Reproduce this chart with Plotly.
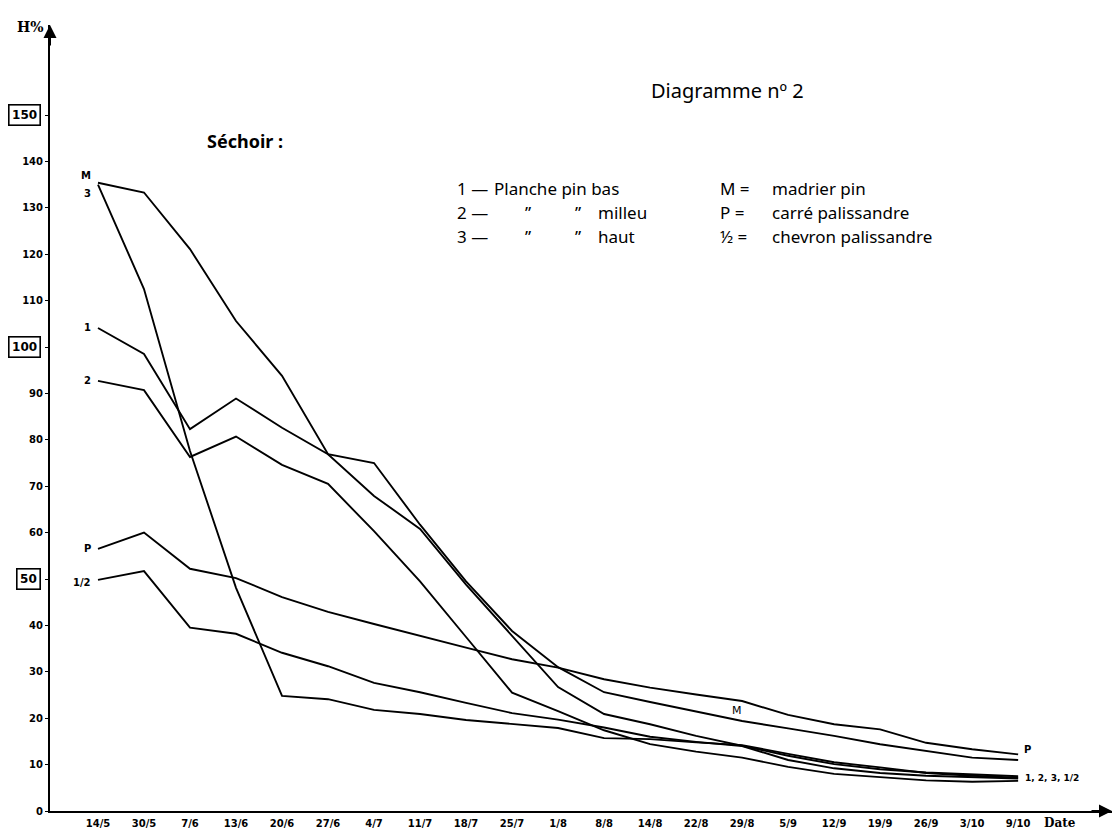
import plotly.graph_objects as go

# ---- data -------------------------------------------------------------
dates = ["14/5", "30/5", "7/6", "13/6", "20/6", "27/6", "4/7", "11/7", "18/7", "25/7",
         "1/8", "8/8", "14/8", "22/8", "29/8", "5/9", "12/9", "19/9", "26/9", "3/10", "9/10"]

planche_bas_1 = [104.1, 98.5, 82.3, 88.9, 82.6, 76.9, 67.9, 60.8, 48.8, 37.7, 26.7,
                 20.9, 18.7, 16.2, 14.0, 11.9, 10.1, 9.0, 8.3, 7.9, 7.5]
planche_milieu_2 = [92.7, 90.7, 76.3, 80.7, 74.6, 70.5, 60.3, 49.5, 37.5, 25.5, 21.5,
                    17.4, 14.4, 12.8, 11.5, 9.5, 8.0, 7.3, 6.6, 6.3, 6.5]
planche_haut_3 = [135.0, 112.5, 77.6, 48.1, 24.8, 24.1, 21.8, 20.9, 19.6, 18.7, 17.9,
                  15.7, 15.5, 14.8, 14.2, 12.3, 10.5, 9.4, 8.2, 7.6, 7.2]
madrier_M = [135.4, 133.3, 121.1, 105.6, 93.8, 76.9, 75.0, 61.7, 49.5, 38.8, 31.0,
             25.6, 23.5, 21.5, 19.4, 17.8, 16.2, 14.4, 12.9, 11.5, 11.0]
carre_P = [56.5, 60.0, 52.2, 50.2, 46.1, 42.9, 40.3, 37.7, 35.2, 32.7, 30.9,
           28.4, 26.6, 25.1, 23.7, 20.7, 18.7, 17.6, 14.7, 13.3, 12.2]
chevron_half = [49.8, 51.7, 39.5, 38.2, 34.1, 31.2, 27.6, 25.6, 23.3, 21.1, 19.7,
                18.0, 16.0, 14.9, 14.0, 11.0, 9.2, 8.2, 7.6, 7.3, 7.0]

series_names = ["1", "2", "3", "M", "P", "1/2"]
series_values = [planche_bas_1, planche_milieu_2, planche_haut_3, madrier_M, carre_P, chevron_half]

y_tick_values = [0, 10, 20, 30, 40, 50, 60, 70, 80, 90, 100, 110, 120, 130, 140, 150]
y_boxed = [50, 100, 150]

# ---- figure -----------------------------------------------------------
W, H = 1116, 840
ML, MR, MT, MB = 50, 4, 25, 29
PW, PH = W - ML - MR, H - MT - MB

def px(x):
    return (x - ML) / PW

def py(y):
    return (H - MB - y) / PH

fig = go.Figure()
for name, vals in zip(series_names, series_values):
    fig.add_trace(go.Scatter(x=dates, y=vals, mode="lines", name=name,
                             line=dict(color="black", width=1.9), showlegend=False))

hand = dict(family="DejaVu Sans", size=10, color="black", weight="bold")
txt = "Noto Sans"
LS = 17

fig.update_layout(
    width=W, height=H, margin=dict(l=ML, r=MR, t=MT, b=MB),
    paper_bgcolor="white", plot_bgcolor="white",
    xaxis=dict(type="category", range=[-1.043, 22.04], showgrid=False, zeroline=False,
               showline=True, linecolor="black", linewidth=2, ticks="",
               tickfont=hand, ticklabelstandoff=2),
    yaxis=dict(range=[0, 169.4], showgrid=False, zeroline=False, showline=True,
               linecolor="black", linewidth=2, tickvals=y_tick_values,
               ticktext=["" if v in y_boxed else str(v) for v in y_tick_values],
               ticks="outside", ticklen=3, tickcolor="black", tickfont=hand),
)

ann = []
# boxed y labels
for v in y_boxed:
    ann.append(dict(x=px(41), y=v, xref="paper", yref="y", xanchor="right", text=str(v),
                    showarrow=False,
                    font=dict(family="DejaVu Sans", size=12, color="black", weight="bold"),
                    bordercolor="black", borderwidth=1.6, borderpad=2.5))
# axis arrows
ann.append(dict(x=1, y=0, xref="paper", yref="paper", ax=-22, ay=0, showarrow=True,
                arrowhead=2, arrowsize=1.3, arrowwidth=2, arrowcolor="black", text=""))
ann.append(dict(x=0, y=1, xref="paper", yref="paper", ax=0, ay=22, showarrow=True,
                arrowhead=2, arrowsize=1.3, arrowwidth=2, arrowcolor="black", text=""))
ann.append(dict(x=px(46), y=py(17), xref="paper", yref="paper", xanchor="right", text="H%",
                showarrow=False,
                font=dict(family="DejaVu Serif", size=14, color="black", weight="bold")))
ann.append(dict(x=px(1078), y=py(832), xref="paper", yref="paper", text="Date", showarrow=False,
                font=dict(family="DejaVu Serif", size=12, color="black", weight="bold")))

# series labels at start
start_labels = [("M", madrier_M, 7), ("3", planche_haut_3, -9), ("1", planche_bas_1, 0),
                ("2", planche_milieu_2, 0), ("P", carre_P, 0), ("1/2", chevron_half, -3)]
for t, vals, ys in start_labels:
    ann.append(dict(x=dates[0], y=vals[0], xref="x", yref="y", text=t, showarrow=False,
                    xanchor="right", xshift=-5, yshift=ys,
                    font=dict(family="DejaVu Sans", size=10, color="black", weight="bold")))
# labels at end
ann.append(dict(x=dates[14], y=madrier_M[14], xref="x", yref="y", text="M", showarrow=False,
                yshift=10, xshift=-5, font=dict(family="DejaVu Sans", size=11, color="black")))
ann.append(dict(x=dates[-1], y=carre_P[-1], xref="x", yref="y", text="P", showarrow=False,
                xanchor="left", xshift=4, yshift=5,
                font=dict(family="DejaVu Sans", size=10, color="black", weight="bold")))
ann.append(dict(x=dates[-1], y=planche_bas_1[-1], xref="x", yref="y", text="1, 2, 3, 1/2",
                showarrow=False, xanchor="left", xshift=5, yshift=-2,
                font=dict(family="DejaVu Sans", size=9, color="black", weight="bold")))

# title and legend text
ann.append(dict(x=px(727), y=py(75), xref="paper", yref="paper", text="Diagramme nº 2",
                showarrow=False, font=dict(family=txt, size=20, color="black")))
ann.append(dict(x=px(205), y=py(127), xref="paper", yref="paper", text="<b>Séchoir :</b>",
                showarrow=False, xanchor="left", font=dict(family=txt, size=18, color="black")))
rows_y = [175, 199, 223]
col_a = ["1 —", "2 —", "3 —"]
col_c = ["M =", "P =", "½ ="]
col_d = ["madrier pin", "carré palissandre", "chevron palissandre"]
for i, yy in enumerate(rows_y):
    ann.append(dict(x=px(455), y=py(yy), xref="paper", yref="paper", text=col_a[i], showarrow=False,
                    xanchor="left", font=dict(family=txt, size=LS, color="black")))
    ann.append(dict(x=px(718), y=py(yy), xref="paper", yref="paper", text=col_c[i], showarrow=False,
                    xanchor="left", font=dict(family=txt, size=LS, color="black")))
    ann.append(dict(x=px(770), y=py(yy), xref="paper", yref="paper", text=col_d[i], showarrow=False,
                    xanchor="left", font=dict(family=txt, size=LS, color="black")))
ann.append(dict(x=px(492), y=py(rows_y[0]), xref="paper", yref="paper", text="Planche pin bas",
                showarrow=False, xanchor="left", font=dict(family=txt, size=LS, color="black")))
for i, word in [(1, "milleu"), (2, "haut")]:
    for xx in (528, 578):
        ann.append(dict(x=px(xx), y=py(rows_y[i]), xref="paper", yref="paper", text="”", showarrow=False,
                        font=dict(family=txt, size=LS, color="black")))
    ann.append(dict(x=px(596), y=py(rows_y[i]), xref="paper", yref="paper", text=word, showarrow=False,
                    xanchor="left", font=dict(family=txt, size=LS, color="black")))

fig.update_layout(annotations=ann)
fig.write_html("out.html", config={"displayModeBar": False},
               post_script="document.body.style.margin='0';")
